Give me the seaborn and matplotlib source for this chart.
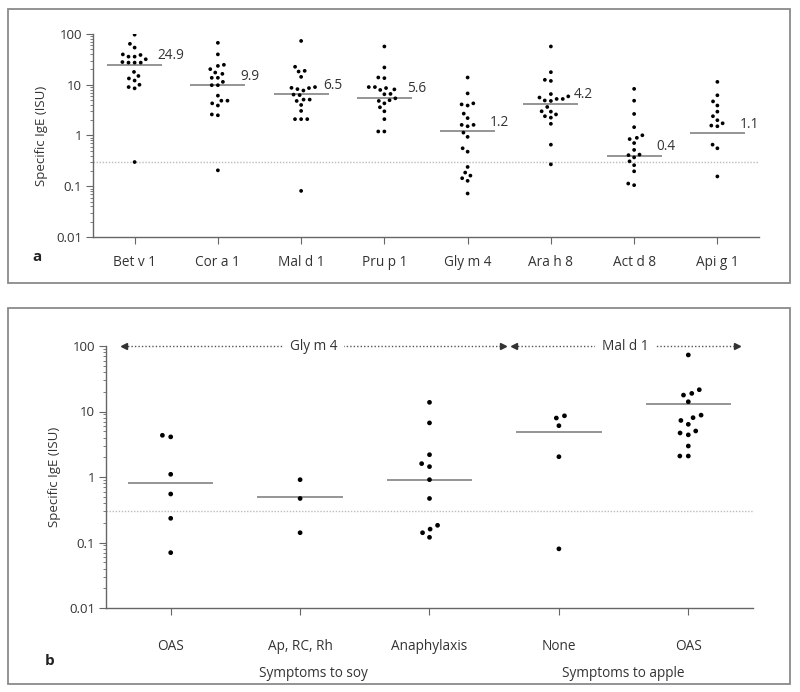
import numpy as np
import pandas as pd
import matplotlib
matplotlib.use("Agg")
import matplotlib.pyplot as plt
import seaborn as sns
from matplotlib.patches import Rectangle
from matplotlib.ticker import FixedLocator, NullFormatter
from matplotlib.transforms import blended_transform_factory

# ---------------- data: panel a ----------------
allergens = ["Bet v 1", "Cor a 1", "Mal d 1", "Pru p 1", "Gly m 4", "Ara h 8", "Act d 8", "Api g 1"]
bet_v_1 = [97, 64, 54, 39.6, 38.6, 35.8, 35.8, 31.8, 28, 27.3, 27.3, 27.3, 17.9, 14.9, 13.3, 12.1, 10, 9.0, 8.5, 0.30]
cor_a_1 = [67, 39.7, 24.7, 23.5, 20.3, 17.4, 16.4, 13.7, 13.7, 11.4, 9.8, 9.8, 6.1, 4.85, 4.85, 4.3, 3.9, 2.6, 2.5, 0.206]
mal_d_1 = [73, 22.6, 18.8, 18.2, 14.3, 9.0, 8.7, 8.6, 8.2, 7.7, 6.4, 6.25, 5.1, 5.1, 4.8, 4.0, 3.05, 2.1, 2.1, 2.1, 0.081]
pru_p_1 = [56.8, 21.9, 13.9, 13.5, 9.0, 9.0, 8.6, 8.1, 7.9, 6.6, 6.5, 5.4, 4.95, 4.8, 4.3, 3.6, 3.0, 2.1, 1.2, 1.2]
gly_m_4 = [13.9, 6.75, 4.3, 4.1, 3.9, 2.7, 2.2, 1.62, 1.62, 1.52, 1.14, 0.94, 0.56, 0.48, 0.24, 0.186, 0.162, 0.144, 0.128, 0.072]
ara_h_8 = [56.8, 17.7, 12.5, 11.9, 6.55, 5.9, 5.6, 5.25, 5.25, 4.9, 4.8, 3.65, 3.0, 2.95, 2.6, 2.4, 2.25, 1.7, 0.66, 0.27]
act_d_8 = [8.3, 4.85, 2.66, 1.46, 1.01, 0.90, 0.85, 0.71, 0.52, 0.42, 0.41, 0.37, 0.31, 0.26, 0.197, 0.113, 0.105]
api_g_1 = [11.4, 6.2, 4.7, 3.9, 2.95, 2.4, 2.0, 1.74, 1.57, 1.52, 0.66, 0.56, 0.156]
medians_a = [24.9, 9.9, 6.5, 5.6, 1.2, 4.2, 0.4, 1.1]
median_labels_a = ["24.9", "9.9", "6.5", "5.6", "1.2", "4.2", "0.4", "1.1"]

# ---------------- data: panel b ----------------
symptom_keys = ["OAS soy", "Ap, RC, Rh", "Anaphylaxis", "None", "OAS apple"]
symptom_labels = ["OAS", "Ap, RC, Rh", "Anaphylaxis", "None", "OAS"]
soy_oas = [4.33, 4.1, 1.1, 0.55, 0.234, 0.070]
soy_ap_rc_rh = [0.91, 0.47, 0.141]
soy_anaphylaxis = [13.8, 6.7, 2.19, 1.6, 1.44, 0.91, 0.47, 0.183, 0.16, 0.141, 0.12]
apple_none = [8.6, 7.95, 6.07, 2.04, 0.08]
apple_oas = [73, 21.5, 18.9, 17.8, 14.1, 8.8, 8.05, 7.3, 6.37, 5.04, 4.7, 4.4, 2.97, 2.09, 2.09]
medians_b = [0.82, 0.50, 0.91, 4.86, 12.9]
groups_b = ["Gly m 4", "Mal d 1"]
group_titles_b = ["Symptoms to soy", "Symptoms to apple"]

threshold = 0.3
yticks = [0.01, 0.1, 1, 10, 100]
yticklabels = ["0.01", "0.1", "1", "10", "100"]

series_a = [bet_v_1, cor_a_1, mal_d_1, pru_p_1, gly_m_4, ara_h_8, act_d_8, api_g_1]
df_a = pd.DataFrame({
    "allergen": np.concatenate([[a] * len(v) for a, v in zip(allergens, series_a)]),
    "ige": np.concatenate(series_a),
})
series_b = [soy_oas, soy_ap_rc_rh, soy_anaphylaxis, apple_none, apple_oas]
df_b = pd.DataFrame({
    "symptom": np.concatenate([[k] * len(v) for k, v in zip(symptom_keys, series_b)]),
    "ige": np.concatenate(series_b),
})

# ---------------- style ----------------
sns.set_theme(style="white")
plt.rcParams["font.family"] = ["Open Sans", "DejaVu Sans"]
TXT = "#333333"
AX = "#666666"

W, H = 800, 692
fig = plt.figure(figsize=(W / 100, H / 100), dpi=100)

def px_axes(l, r, t, b):
    return fig.add_axes([l / W, 1 - b / H, (r - l) / W, (b - t) / H])

ax_a = px_axes(93, 759, 34, 237)
ax_b = px_axes(106, 753, 346, 608)

def style_axis(ax, n):
    ax.set_yscale("log")
    ax.set_ylim(0.01, 100)
    ax.set_xlim(-0.5, n - 0.5)
    for s in ["top", "right"]:
        ax.spines[s].set_visible(False)
    for s in ["left", "bottom"]:
        ax.spines[s].set_color(AX)
        ax.spines[s].set_linewidth(1.0)
    ax.yaxis.set_major_locator(FixedLocator(yticks))
    minor = [m * 10.0 ** e for e in range(-2, 2) for m in range(2, 10)]
    ax.yaxis.set_minor_locator(FixedLocator(minor))
    ax.yaxis.set_minor_formatter(NullFormatter())
    ax.set_yticklabels(yticklabels)
    ax.tick_params(axis="y", which="major", direction="out", length=5, width=0.8,
                   color=AX, labelsize=9.5, labelcolor=TXT, left=True, pad=3)
    ax.tick_params(axis="y", which="minor", direction="out", length=2.5, width=0.6,
                   color=AX, left=True)
    ax.tick_params(axis="x", direction="out", length=5, width=0.8, color=AX,
                   labelsize=9.8, labelcolor=TXT, bottom=True)
    ax.axhline(threshold, color="#bcbcbc", lw=1.0, ls=(0, (1, 1.2)), zorder=0)
    ax.set_xlabel("")
    ax.set_ylabel("Specific IgE (ISU)", fontsize=9.5, color=TXT, labelpad=6)
    ax.grid(False)

# ---------------- panel a ----------------
ax_a.set_yscale("log")
sns.swarmplot(data=df_a, x="allergen", y="ige", order=allergens, color="black",
              size=2.7, linewidth=1.5, edgecolor="none", ax=ax_a, zorder=3)
style_axis(ax_a, len(allergens))
ax_a.set_xticks(range(len(allergens)))
ax_a.set_xticklabels(allergens)
ax_a.tick_params(axis="x", pad=8)
for i, (m, lab) in enumerate(zip(medians_a, median_labels_a)):
    ax_a.hlines(m, i - 0.33, i + 0.33, color="#8c8c8c", lw=1.3, zorder=2)
    ax_a.annotate(lab, (i + 0.27, m), xytext=(0, 1), textcoords="offset points",
                  ha="left", va="bottom", fontsize=9.8, color=TXT)

# ---------------- panel b ----------------
ax_b.set_yscale("log")
sns.swarmplot(data=df_b, x="symptom", y="ige", order=symptom_keys, color="black",
              size=3.4, linewidth=2.4, edgecolor="none", ax=ax_b, zorder=3)
style_axis(ax_b, len(symptom_keys))
ax_b.set_xticks(range(len(symptom_keys)))
ax_b.set_xticklabels(symptom_labels)
ax_b.tick_params(axis="x", pad=17)
for i, m in enumerate(medians_b):
    ax_b.hlines(m, i - 0.33, i + 0.33, color="#8c8c8c", lw=1.3, zorder=2)

# group arrows
arrow_spans = [(-0.36, 2.57), (2.65, 4.38)]
for name, (x0, x1) in zip(groups_b, arrow_spans):
    ax_b.plot([x0, x1], [100, 100], color="#555555", lw=1.0, ls=(0, (1, 1.5)),
              clip_on=False, zorder=4)
    ax_b.plot([x0], [100], marker="<", color="#333333", ms=4.5, clip_on=False, zorder=5)
    ax_b.plot([x1], [100], marker=">", color="#333333", ms=4.5, clip_on=False, zorder=5)
    ax_b.text((x0 + x1) / 2, 100, name, ha="center", va="center", fontsize=9.8,
              color=TXT, zorder=6, clip_on=False,
              bbox=dict(boxstyle="square,pad=0.5", fc="white", ec="none"))

tr = blended_transform_factory(ax_b.transData, ax_b.transAxes)
for name, xc in zip(group_titles_b, [1.1, 3.5]):
    ax_b.text(xc, -0.25, name, transform=tr, ha="center", va="center",
              fontsize=9.8, color=TXT)

# panel letters
fig.text(37 / W, 1 - 257 / H, "a", fontsize=11, fontweight="bold", color="#222222",
         ha="center", va="center")
fig.text(50 / W, 1 - 661 / H, "b", fontsize=11, fontweight="bold", color="#222222",
         ha="center", va="center")

# panel frames
for (l, t, r, b) in [(8, 9, 790, 283), (8, 308, 790, 684)]:
    fig.patches.append(Rectangle((l / W, 1 - b / H), (r - l) / W, (b - t) / H,
                                 transform=fig.transFigure, fill=False,
                                 ec="#8a8a8a", lw=1.3, zorder=0))

fig.savefig("out.png", dpi=100, facecolor="white")
